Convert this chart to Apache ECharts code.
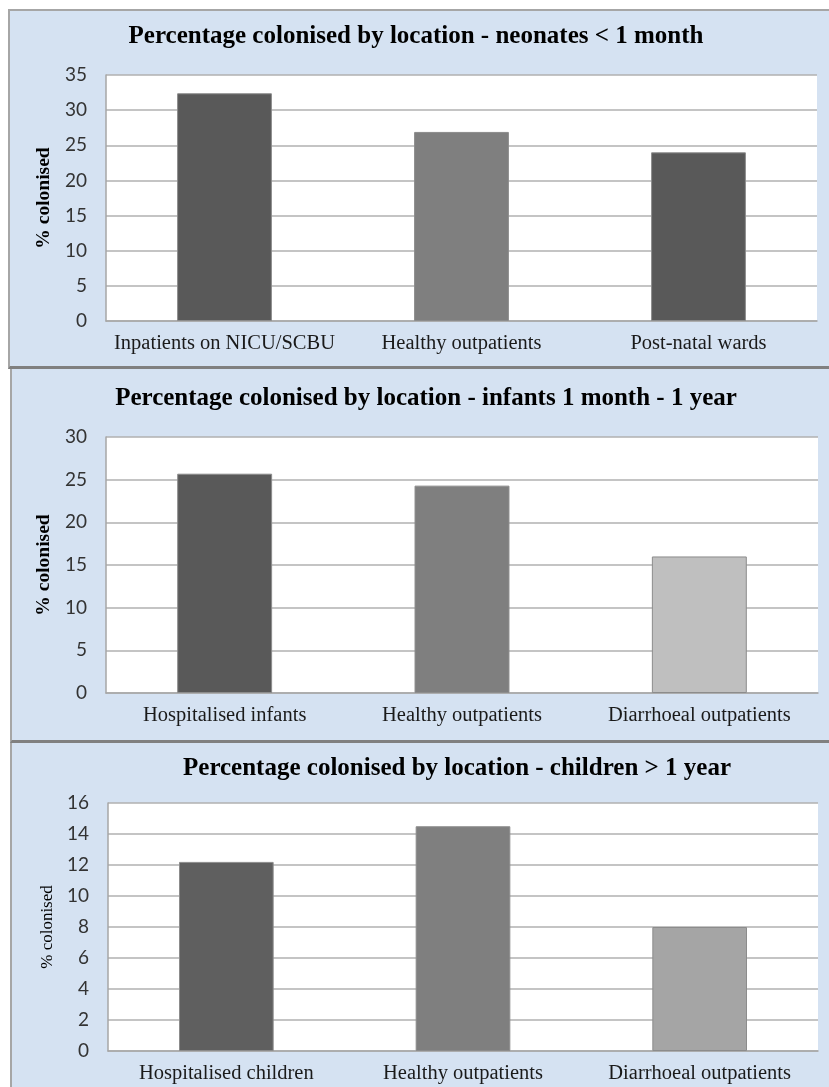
<!DOCTYPE html>
<html>
<head>
<meta charset="utf-8">
<script src="https://cdn.jsdelivr.net/npm/echarts@6/dist/echarts.min.js"></script>
<style>
  html, body { margin: 0; padding: 0; background: #ffffff; overflow: hidden; }
  #wrap { position: relative; width: 829px; height: 1087px; overflow: hidden; }
  .panel { position: absolute; background: #d5e2f2; box-sizing: content-box; }
  #p1 { left: 8px; top: 9px; width: 830px; height: 355px;
        border-top: 2px solid #a6a6a6; border-left: 2px solid #a6a6a6; border-bottom: 3px solid #808080; }
  #p2 { left: 10px; top: 369px; width: 830px; height: 371px;
        border-left: 2px solid #a6a6a6; border-bottom: 3px solid #808080; }
  #p3 { left: 10px; top: 743px; width: 830px; height: 360px;
        border-left: 2px solid #a6a6a6; }
  #chart { position: absolute; left: 0; top: 0; width: 829px; height: 1087px; }
</style>
</head>
<body>
<div id="wrap">
  <div class="panel" id="p1"></div>
  <div class="panel" id="p2"></div>
  <div class="panel" id="p3"></div>
  <div id="chart"></div>
</div>
<script>
// Neonates < 1 month
const neonateTitle = 'Percentage colonised by location - neonates < 1 month';
const neonateCats = ['Inpatients on NICU/SCBU', 'Healthy outpatients', 'Post-natal wards'];
const neonateVals = [32.4, 26.9, 24.0];
const neonateColors = ['#595959', '#7f7f7f', '#595959'];
const neonateAxis = { min: 0, max: 35, interval: 5 };

// Infants 1 month - 1 year
const infantTitle = 'Percentage colonised by location - infants 1 month - 1 year';
const infantCats = ['Hospitalised infants', 'Healthy outpatients', 'Diarrhoeal outpatients'];
const infantVals = [25.7, 24.3, 16.0];
const infantColors = ['#595959', '#7f7f7f', '#bfbfbf'];
const infantAxis = { min: 0, max: 30, interval: 5 };

// Children > 1 year
const childTitle = 'Percentage colonised by location - children > 1 year';
const childCats = ['Hospitalised children', 'Healthy outpatients', 'Diarrhoeal outpatients'];
const childVals = [12.2, 14.5, 8.0];
const childColors = ['#5f5f5f', '#7f7f7f', '#a5a5a5'];
const childAxis = { min: 0, max: 16, interval: 2 };

const yName = '% colonised';

const panels = [
  { title: neonateTitle, cats: neonateCats, vals: neonateVals, colors: neonateColors, axis: neonateAxis,
    grid: { left: 106, right: 12, top: 75, height: 246 }, titleX: 416, titleY: 37, nameBold: true },
  { title: infantTitle, cats: infantCats, vals: infantVals, colors: infantColors, axis: infantAxis,
    grid: { left: 106, right: 11, top: 437, height: 256 }, titleX: 426, titleY: 399, nameBold: true },
  { title: childTitle, cats: childCats, vals: childVals, colors: childColors, axis: childAxis,
    grid: { left: 108, right: 11, top: 803, height: 248 }, titleX: 457, titleY: 769, nameBold: false }
];

const gridLine = '#b0b0b0';
const axisGrey = '#a6a6a6';

const option = {
  animation: false,
  backgroundColor: 'transparent',
  graphic: panels.map(p => ({
    type: 'text',
    x: p.titleX,
    y: p.titleY,
    style: {
      text: p.title,
      fill: '#000',
      font: 'bold 25px "Liberation Serif", "Times New Roman", serif',
      textAlign: 'center',
      textVerticalAlign: 'middle'
    }
  })),
  grid: panels.map(p => Object.assign({
    show: true, backgroundColor: '#ffffff', borderWidth: 0, containLabel: false
  }, p.grid)),
  xAxis: panels.map((p, i) => ({
    type: 'category',
    gridIndex: i,
    data: p.cats,
    axisTick: { show: false },
    axisLine: { show: true, lineStyle: { color: axisGrey, width: 1.5 } },
    axisLabel: {
      margin: 12,
      color: '#1a1a1a',
      fontFamily: '"Liberation Serif", "Times New Roman", serif',
      fontSize: 20.5,
      interval: 0
    }
  })),
  yAxis: panels.map((p, i) => ({
    type: 'value',
    gridIndex: i,
    min: p.axis.min,
    max: p.axis.max,
    interval: p.axis.interval,
    name: yName,
    nameLocation: 'middle',
    nameGap: p.nameBold ? 47 : 50,
    nameTextStyle: {
      fontFamily: '"Liberation Serif", "Times New Roman", serif',
      fontWeight: p.nameBold ? 'bold' : 'normal',
      fontSize: p.nameBold ? 19.5 : 17,
      color: '#000'
    },
    axisLine: { show: true, lineStyle: { color: axisGrey, width: 1.5 } },
    axisTick: { show: false },
    splitLine: { show: true, lineStyle: { color: gridLine, width: 1.5 } },
    axisLabel: {
      margin: 19,
      color: '#333',
      fontFamily: 'Lato, "Open Sans", sans-serif',
      fontSize: 19
    }
  })),
  series: panels.map((p, i) => ({
    type: 'bar',
    xAxisIndex: i,
    yAxisIndex: i,
    barWidth: '40%',
    data: p.vals.map((v, k) => ({
      value: v,
      itemStyle: { color: p.colors[k], borderColor: '#8c8c8c', borderWidth: 1 }
    }))
  }))
};

const chart = echarts.init(document.getElementById('chart'), null, { renderer: 'canvas' });
chart.setOption(option);
</script>
</body>
</html>
